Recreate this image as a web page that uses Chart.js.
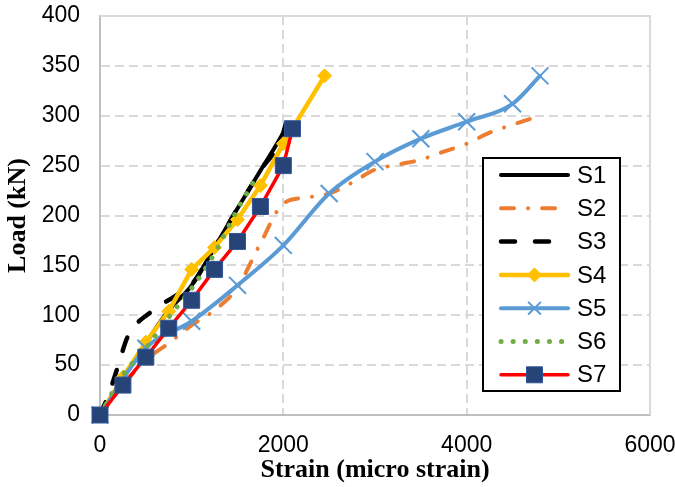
<!DOCTYPE html>
<html>
<head>
<meta charset="utf-8">
<script src="https://cdn.jsdelivr.net/npm/chart.js@4.4.0/dist/chart.umd.min.js"></script>
<style>
  html, body { margin: 0; padding: 0; background: #ffffff; }
  #wrap { width: 675px; height: 487px; }
</style>
</head>
<body>
<div id="wrap"><canvas id="c" width="675" height="487"></canvas></div>
<script>
// ---- Data ----
const seriesNames = ['S1', 'S2', 'S3', 'S4', 'S5', 'S6', 'S7'];

const s1Strain = [0, 250, 500, 750, 1000, 1250, 1500, 1750, 2000, 2050];
const s1Load   = [0, 37, 72, 105, 130, 168, 207, 245, 283, 292];

const s2Strain = [0, 250, 500, 750, 1000, 1250, 1500, 1750, 2000, 2250, 2500, 2750, 3000, 3250, 3500, 3750, 4000, 4250, 4500, 4700];
const s2Load   = [0, 30, 55, 72, 90, 105, 128, 172, 212, 218, 222, 233, 246, 251, 256, 264, 272, 283, 291, 297];

const s3Strain = [0, 100, 200, 300, 550, 850, 1000, 1250, 1500, 1750, 2000, 2070];
const s3Load   = [0, 22, 50, 78, 103, 121, 131, 168, 207, 245, 283, 311];

const s4Strain = [0, 250, 500, 750, 1000, 1250, 1500, 1750, 2000, 2450];
const s4Load   = [0, 38, 73, 104, 146, 168, 196, 230, 272, 340];

const s5Strain = [0, 500, 1000, 1500, 2000, 2500, 3000, 3500, 4000, 4500, 4800];
const s5Load   = [0, 67, 94, 130, 170, 222, 254, 277, 294, 312, 340];

const s6Strain = [0, 250, 500, 750, 1000, 1250, 1500, 1700];
const s6Load   = [0, 40, 67, 98, 127, 162, 206, 238];

const s7Strain = [0, 250, 500, 750, 1000, 1250, 1500, 1750, 2000, 2100];
const s7Load   = [0, 30, 58, 87, 115, 146, 174, 209, 250, 287];

const xTicks = [0, 2000, 4000, 6000];
const yTicks = [0, 50, 100, 150, 200, 250, 300, 350, 400];

const xTitle = 'Strain (micro strain)';
const yTitle = 'Load (kN)';

function pairs(xs, ys) { return xs.map((x, i) => ({ x: x, y: ys[i] })); }

const allStrain = [s1Strain, s2Strain, s3Strain, s4Strain, s5Strain, s6Strain, s7Strain];
const allLoad = [s1Load, s2Load, s3Load, s4Load, s5Load, s6Load, s7Load];

// ---- Styles ----
const styles = [
  { color: '#000000', width: 4, dash: [], cap: 'butt', tension: 0.3, mono: true, point: false },
  { color: '#ED7D31', width: 4, dash: [13, 14, 0.1, 14], cap: 'round', tension: 0.3, mono: true, point: false },
  { color: '#000000', width: 4.5, dash: [14, 20], cap: 'round', tension: 0.3, mono: true, point: false },
  { color: '#FFC000', width: 4.5, dash: [], cap: 'round', tension: 0, mono: false, point: { style: 'rect', rot: 45, r: 7, bg: '#FFC000', bd: '#FFC000', bw: 1 } },
  { color: '#5B9BD5', width: 4, dash: [], cap: 'round', tension: 0.3, mono: true, point: { style: 'crossRot', rot: 0, r: 12, bg: '#5B9BD5', bd: '#5B9BD5', bw: 2 } },
  { color: '#70AD47', width: 5, dash: [0.1, 12], cap: 'round', tension: 0.3, mono: true, point: false },
  { color: '#FF0000', width: 3.5, dash: [], cap: 'round', tension: 0, mono: false, point: { style: 'rect', rot: 0, r: 11.3, bg: '#264478', bd: '#2F5597', bw: 1 } }
];

const datasets = seriesNames.map((name, i) => {
  const st = styles[i];
  return {
    label: name,
    data: pairs(allStrain[i], allLoad[i]),
    showLine: true,
    borderColor: st.color,
    backgroundColor: st.color,
    borderWidth: st.width,
    borderDash: st.dash,
    borderCapStyle: st.cap,
    borderJoinStyle: 'round',
    tension: st.tension,
    cubicInterpolationMode: st.mono ? 'monotone' : 'default',
    pointStyle: st.point ? st.point.style : 'circle',
    pointRotation: st.point ? st.point.rot : 0,
    pointRadius: st.point ? st.point.r : 0,
    pointHoverRadius: st.point ? st.point.r : 0,
    pointBackgroundColor: st.point ? st.point.bg : st.color,
    pointBorderColor: st.point ? st.point.bd : st.color,
    pointBorderWidth: st.point ? st.point.bw : 0,
    clip: false,
    order: seriesNames.length - i
  };
});

// plot frame (top/right border)
const framePlugin = {
  id: 'frame',
  beforeDatasetsDraw(chart) {
    const a = chart.chartArea, ctx = chart.ctx;
    ctx.save();
    ctx.strokeStyle = '#d9d9d9';
    ctx.lineWidth = 2;
    ctx.beginPath();
    ctx.moveTo(a.left, a.top);
    ctx.lineTo(a.right, a.top);
    ctx.lineTo(a.right, a.bottom);
    ctx.stroke();
    ctx.restore();
  }
};

// boxed legend with line samples
const boxLegend = {
  id: 'boxLegend',
  afterDraw(chart) {
    const ctx = chart.ctx;
    const bx = 483, by = 158, bw = 137, bh = 233;
    ctx.save();
    ctx.fillStyle = '#ffffff';
    ctx.fillRect(bx, by, bw, bh);
    ctx.strokeStyle = '#000000';
    ctx.lineWidth = 2;
    ctx.strokeRect(bx, by, bw, bh);
    chart.data.datasets.forEach((ds, i) => {
      const y = 175 + i * 33.3;
      const x1 = 499, x2 = 570;
      ctx.save();
      ctx.strokeStyle = ds.borderColor;
      ctx.lineWidth = ds.borderWidth;
      ctx.lineCap = ds.borderCapStyle === 'butt' ? 'round' : ds.borderCapStyle;
      ctx.setLineDash(ds.borderDash || []);
      ctx.beginPath();
      ctx.moveTo(x1 + 2, y);
      ctx.lineTo(x2 - 2, y);
      ctx.stroke();
      ctx.restore();
      if (ds.pointRadius > 0) {
        ctx.save();
        ctx.fillStyle = ds.pointBackgroundColor;
        ctx.strokeStyle = ds.pointBorderColor;
        ctx.lineWidth = ds.pointBorderWidth;
        ctx.setLineDash([]);
        Chart.helpers.drawPoint(ctx, {
          pointStyle: ds.pointStyle,
          rotation: ds.pointRotation,
          radius: ds.pointStyle === 'crossRot' ? 9 : ds.pointRadius,
          borderWidth: ds.pointBorderWidth
        }, (x1 + x2) / 2, y);
        ctx.restore();
      }
      ctx.fillStyle = '#000000';
      ctx.font = '24px "Liberation Sans", Arial, sans-serif';
      ctx.textAlign = 'left';
      ctx.textBaseline = 'middle';
      ctx.fillText(ds.label, 577, y + 1);
    });
    ctx.restore();
  }
};

const tickFont = { family: '"Liberation Sans", Arial, sans-serif', size: 23 };
const titleFont = { family: '"Liberation Serif", "Times New Roman", serif', size: 26, weight: 'bold' };

const chart = new Chart(document.getElementById('c'), {
  type: 'scatter',
  data: { datasets: datasets },
  options: {
    responsive: false,
    animation: false,
    devicePixelRatio: 1,
    layout: { padding: { top: 16, right: 25, left: 0, bottom: 0 } },
    plugins: {
      legend: { display: false },
      tooltip: { enabled: false }
    },
    scales: {
      x: {
        type: 'linear',
        min: 0, max: 6000,
        afterBuildTicks(scale) { scale.ticks = xTicks.map(v => ({ value: v })); },
        afterFit(scale) { scale.height = 72; scale.paddingLeft = 0; scale.paddingRight = 0; },
        ticks: {
          color: '#000000',
          font: tickFont,
          padding: 17,
          maxRotation: 0,
          callback: (v) => String(v)
        },
        grid: { color: '#d9d9d9', lineWidth: 2, drawTicks: false },
        border: { display: true, color: '#bfbfbf', width: 2, dash: [9, 5] },
        title: {
          display: true,
          text: xTitle,
          color: '#000000',
          font: titleFont,
          padding: { top: 0, bottom: 1 }
        }
      },
      y: {
        type: 'linear',
        min: 0, max: 400,
        afterBuildTicks(scale) { scale.ticks = yTicks.map(v => ({ value: v })); },
        afterFit(scale) { scale.width = 100; scale.paddingTop = 0; scale.paddingBottom = 0; },
        ticks: {
          color: '#000000',
          font: tickFont,
          padding: 20,
          callback: (v) => String(v)
        },
        grid: { color: '#d9d9d9', lineWidth: 2, drawTicks: false },
        border: { display: true, color: '#bfbfbf', width: 2, dash: [9, 5] },
        title: {
          display: true,
          text: yTitle,
          color: '#000000',
          font: titleFont,
          padding: { top: 3, bottom: 0 }
        }
      }
    }
  },
  plugins: [framePlugin, boxLegend]
});
</script>
</body>
</html>
